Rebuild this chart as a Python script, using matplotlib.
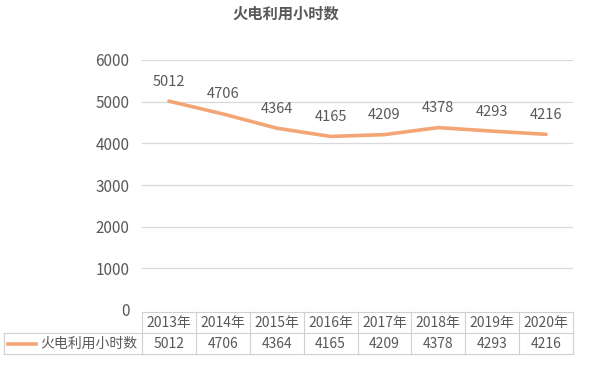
import numpy as np
import matplotlib
matplotlib.use('Agg')
import matplotlib.pyplot as plt
import matplotlib.transforms as mtransforms

plt.rcParams['font.family'] = ['Noto Sans CJK SC', 'DejaVu Sans']

# data
years = ['2013年', '2014年', '2015年', '2016年', '2017年', '2018年', '2019年', '2020年']
hours = [5012, 4706, 4364, 4165, 4209, 4378, 4293, 4216]
series_name = '火电利用小时数'

line_color = '#F4A575'
grid_color = '#D9D9D9'
text_color = '#595959'

fig = plt.figure(figsize=(5.89, 3.68), dpi=100)
ax = fig.add_axes([142/589, 1 - 310/368, (573-142)/589, (310-60)/368])

x = np.arange(len(years))
ax.plot(x, hours, color=line_color, lw=2.6, solid_capstyle='round')
for xi, v in zip(x, hours):
    ax.annotate(str(v), (xi, v), xytext=(0, 9), textcoords='offset points',
                ha='center', va='bottom', fontsize=10.5, color=text_color)

ax.set_xlim(-0.5, len(years) - 0.5)
ax.set_ylim(0, 6000)
ax.set_yticks(np.arange(0, 6001, 1000))
ax.yaxis.grid(True, color=grid_color, lw=0.9)
ax.set_axisbelow(True)
ax.tick_params(axis='y', length=0, pad=9, labelsize=11, labelcolor=text_color)
ax.set_xticks([])
for s in ax.spines.values():
    s.set_visible(False)

# data table under the axes
trans = mtransforms.blended_transform_factory(ax.transData, fig.transFigure)
y_top = 1 - 312/368
y_mid = 1 - 333/368
y_bot = 1 - 354/368
x_left = -0.5
x_right = len(years) - 0.5
tcol = '#D0D0D0'
kw = dict(transform=trans, color=tcol, lw=0.8, clip_on=False)
ax.plot([x_left, x_right], [y_top, y_top], **kw)
ax.plot([x_left, x_right], [y_bot, y_bot], **kw)
for b in np.arange(x_left, x_right + 0.01, 1.0):
    ax.plot([b, b], [y_top, y_bot], **kw)

ftrans = fig.transFigure
ax.plot([4/589, 142/589], [y_mid, y_mid], transform=ftrans, color=tcol, lw=0.8, clip_on=False)
ax.plot([142/589, 573/589], [y_mid, y_mid], transform=ftrans, color=tcol, lw=0.8, clip_on=False)
ax.plot([4/589, 142/589], [y_bot, y_bot], transform=ftrans, color=tcol, lw=0.8, clip_on=False)
ax.plot([4/589, 4/589], [y_mid, y_bot], transform=ftrans, color=tcol, lw=0.8, clip_on=False)

for xi, yr, v in zip(x, years, hours):
    ax.text(xi, (y_top + y_mid) / 2, yr, transform=trans, ha='center', va='center',
            fontsize=10, color=text_color)
    ax.text(xi, (y_mid + y_bot) / 2, str(v), transform=trans, ha='center', va='center',
            fontsize=10, color=text_color)

# legend key in the table
ym = (y_mid + y_bot) / 2
ax.plot([8/589, 36/589], [ym, ym], transform=ftrans, color=line_color, lw=2.6, clip_on=False)
fig.text(40/589, ym, series_name, ha='left', va='center', fontsize=10, color=text_color)

fig.text(286/589, 1 - 14/368, series_name, ha='center', va='center',
         fontsize=11, fontweight='bold', color=text_color)

fig.savefig('out.png', dpi=100)
